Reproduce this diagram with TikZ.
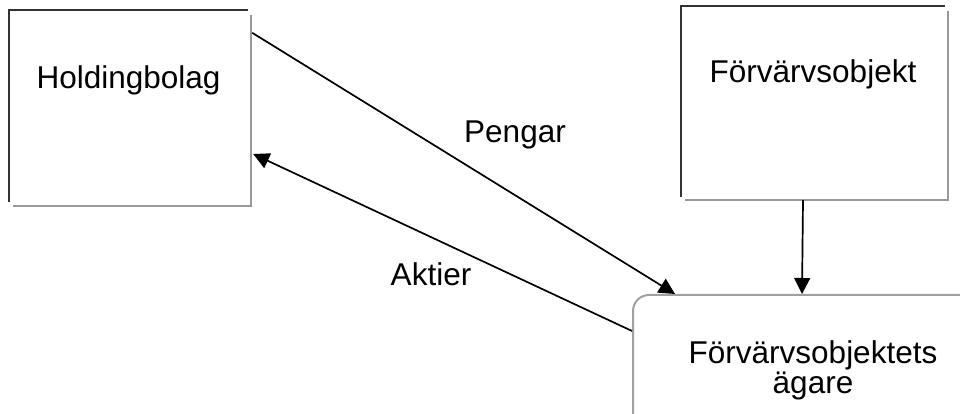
\documentclass[tikz,border=0pt]{standalone}
\usepackage{fontspec}
\setmainfont{Liberation Sans}
\usetikzlibrary{arrows.meta,calc}
\definecolor{edgedark}{HTML}{333333}
\definecolor{shadowgray}{HTML}{999999}
\definecolor{owgray}{HTML}{A0A0A0}
\begin{document}
\begin{tikzpicture}[x=1pt,y=1pt,
  txt/.style={font=\fontsize{31.5}{30}\selectfont, text=black},
  sqbox/.style={txt, draw=none, inner sep=0pt},
  darkedge/.style={draw=edgedark, line width=2pt},
  shadowedge/.style={draw=shadowgray, line width=2.5pt},
  conn/.style={draw=black, line width=1.7pt, -{Triangle[length=16pt,width=16pt]}}]
\clip (0,0) rectangle (960,414);
\fill[white] (0,0) rectangle (960,414);
% Holdingbolag
\node[sqbox, minimum width=239pt, minimum height=192pt, text height=22pt, text depth=56pt] (hb) at (128.5,308) {Holdingbolag};
\draw[darkedge] (hb.south west) -- (hb.north west) -- (hb.north east);
\draw[shadowedge] ($(hb.north east)+(3,-5)$) -- ($(hb.south east)+(3,-4)$) -- ($(hb.south west)+(4,-4)$);
% Forvarvsobjekt
\node[sqbox, minimum width=264pt, minimum height=191pt, text height=22pt, text depth=59pt] (fo) at (813,312.5) {Förvärvsobjekt};
\draw[darkedge] (fo.south west) -- (fo.north west) -- (fo.north east);
\draw[shadowedge] ($(fo.north east)+(3,-5)$) -- ($(fo.south east)+(3,-3)$) -- ($(fo.south west)+(4,-3)$);
% Owner
\node[txt, draw=owgray, line width=2pt, rounded corners=16pt, align=center, minimum width=360pt, minimum height=150pt, inner sep=0pt] (ow) at (813,44) {Förvärvsobjektets\\ägare};
% connectors
\coordinate (pA) at ($(hb.north east)+(4,-23)$);
\coordinate (pB) at ($(ow.north west)+(43,0)$);
\coordinate (aA) at ($(ow.north west)+(0,-37)$);
\coordinate (aB) at ($(hb.east)+(5,-48)$);
\coordinate (fA) at ($(fo.south)+(-10,-3)$);
\coordinate (fB) at ($(ow.north west)+(170,0)$);
\draw[conn] (pA) -- (pB);
\draw[conn] (aA) -- (aB);
\draw[conn] (fA) -- (fB);
% labels
\node[txt, anchor=base] (lp) at (515,271) {Pengar};
\node[txt, anchor=base] (la) at (431,128) {Aktier};
\end{tikzpicture}
\end{document}
